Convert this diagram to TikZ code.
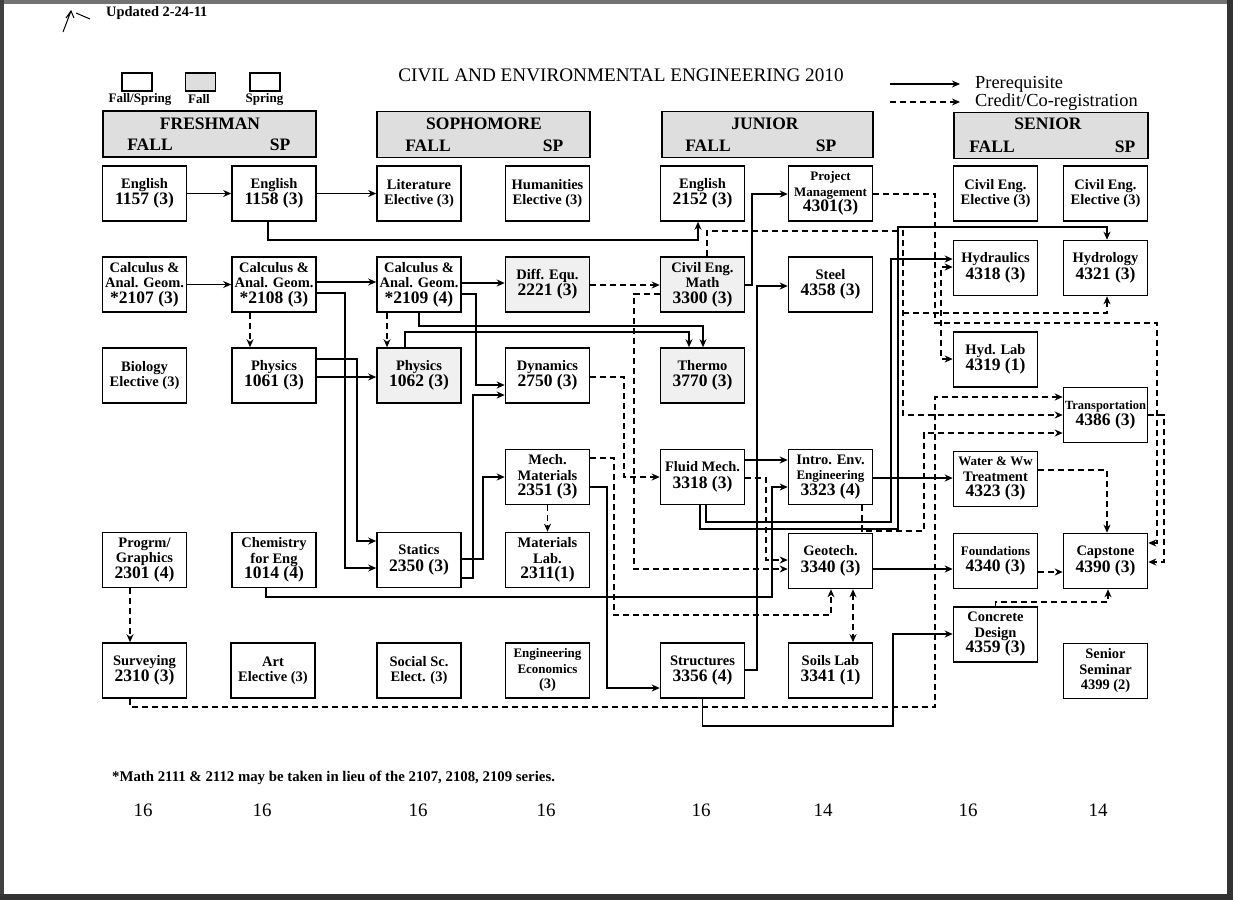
\documentclass[tikz,border=0pt]{standalone}
\usepackage{fontspec}
\setmainfont{Liberation Serif}
\usetikzlibrary{arrows.meta}
\newcommand{\fNm}{\fontsize{14.5}{15.5}\selectfont\bfseries}
\newcommand{\fNs}{\fontsize{13}{14}\selectfont\bfseries}
\newcommand{\fNb}{\fontsize{17.5}{18}\selectfont\bfseries}
\newcommand{\fYr}{\fontsize{17.5}{18}\selectfont\bfseries}
\newcommand{\fLg}{\fontsize{13}{14}\selectfont\bfseries}
\newcommand{\fUp}{\fontsize{14.4}{15}\selectfont\bfseries}
\newcommand{\fTt}{\fontsize{19.2}{20}\selectfont}
\newcommand{\fLr}{\fontsize{18.4}{19}\selectfont}
\newcommand{\fFn}{\fontsize{14.8}{15}\selectfont\bfseries}
\newcommand{\fTo}{\fontsize{19}{20}\selectfont}
\begin{document}
\begin{tikzpicture}[x=1pt,y=-1pt,
  box/.style={draw,line width=1.6pt,minimum width=84pt,minimum height=55pt,inner sep=0.5pt,align=center,font=\fNm},
  fallbox/.style={box,fill=black!6},
  yearbox/.style={draw,line width=1.6pt,fill=black!13,minimum height=46pt},
  pre/.style={line width=1.4pt,-{Stealth[length=8pt,width=7pt]}},
  co/.style={line width=1.4pt,dash pattern=on 6pt off 4pt,-{Stealth[length=8pt,width=7pt]}},
  cob/.style={line width=1.4pt,dash pattern=on 6pt off 4pt,{Stealth[length=8pt,width=7pt]}-{Stealth[length=8pt,width=7pt]}},
  yr/.style={font=\fYr,inner sep=0pt},
  lab/.style={inner sep=0pt},
  lgbox/.style={draw,line width=1.4pt,minimum width=30pt,minimum height=18pt,inner sep=0pt}
]
\useasboundingbox (0,0) rectangle (1233,900);
\fill[white] (0,0) rectangle (1233,900);
% scanned page edges
\fill[black!55] (0,0) rectangle (1233,4);
\fill[black!75] (0,0) rectangle (4,900);
\fill[black!80] (1227,0) rectangle (1233,900);
\fill[black!80] (0,894) rectangle (1233,900);
\draw[line width=1pt] (63,32) -- (71,11) (66,18) -- (71,11) -- (74,18) (76,13) -- (90,19);

% header texts
\node[lab,anchor=west,font=\fUp] (upd) at (106,13) {Updated 2-24-11};
\node[lab,font=\fTt] (title) at (621,75) {CIVIL AND ENVIRONMENTAL ENGINEERING 2010};
\node[lgbox] (lfs) at (137,82) {};
\node[lgbox,fill=black!13] (lf) at (200.5,82) {};
\node[lgbox] (lsp) at (265,82) {};
\node[lab,font=\fLg] (lfst) at (140,99) {Fall/Spring};
\node[lab,font=\fLg] (lft) at (199,99) {Fall};
\node[lab,font=\fLg] (lspt) at (264.5,99) {Spring};
\coordinate (la1) at (890,84); \coordinate (lb1) at (960,84);
\coordinate (la2) at (890,102); \coordinate (lb2) at (960,102);
\draw[pre] (la1) -- (lb1);
\draw[co] (la2) -- (lb2);
\node[lab,anchor=west,font=\fLr] (lpt) at (975,84) {Prerequisite};
\node[lab,anchor=west,font=\fLr] (lct) at (975,102) {Credit/Co-registration};

% year boxes
\node[yearbox,minimum width=213pt] (yfr) at (209.5,134) {};
\node[yearbox,minimum width=213pt] (yso) at (483.5,134.5) {};
\node[yearbox,minimum width=211pt] (yju) at (767.5,134.5) {};
\node[yearbox,minimum width=194pt] (yse) at (1051,135.5) {};
\node[yr] (tfr) at (210,124) {FRESHMAN};
\node[yr] (tfrf) at (150,145) {FALL};
\node[yr] (tfrs) at (280,145) {SP};
\node[yr] (tso) at (484,124) {SOPHOMORE};
\node[yr] (tsof) at (428,146) {FALL};
\node[yr] (tsos) at (553,146) {SP};
\node[yr] (tju) at (765,124) {JUNIOR};
\node[yr] (tjuf) at (708,146) {FALL};
\node[yr] (tjus) at (826,146) {SP};
\node[yr] (tse) at (1048,124) {SENIOR};
\node[yr] (tsef) at (992,147) {FALL};
\node[yr] (tses) at (1125,147) {SP};

% course boxes
\node[box] (e1157) at (144.5,193.5) {English\\[1pt]{\fNb 1157 (3)}};
\node[box] (e1158) at (274,193.5) {English\\[1pt]{\fNb 1158 (3)}};
\node[box] (lit) at (419,193.5) {Literature\\Elective (3)};
\node[box] (hum) at (547.5,193.5) {Humanities\\Elective (3)};
\node[box] (e2152) at (702.5,193.5) {English\\[1pt]{\fNb 2152 (3)}};
\node[box] (pm) at (830.5,193.5) {{\fNs Project}\\{\fNs Management}\\{\fNb 4301(3)}};
\node[box] (ce1) at (995.5,193.5) {Civil Eng.\\Elective (3)};
\node[box] (ce2) at (1105.5,193.5) {Civil Eng.\\Elective (3)};

\node[box] (c2107) at (144.5,284.5) {Calculus \&\\Anal. Geom.\\{\fNb *2107 (3)}};
\node[box] (c2108) at (274,284.5) {Calculus \&\\Anal. Geom.\\{\fNb *2108 (3)}};
\node[box] (c2109) at (419,284.5) {Calculus \&\\Anal. Geom.\\{\fNb *2109 (4)}};
\node[fallbox] (de) at (547.5,284.5) {Diff. Equ.\\[1pt]{\fNb 2221 (3)}};
\node[fallbox] (cem) at (702.5,284.5) {Civil Eng.\\Math\\{\fNb 3300 (3)}};
\node[box] (steel) at (830.5,284.5) {Steel\\[1pt]{\fNb 4358 (3)}};
\node[box] (hydr) at (995.5,268) {Hydraulics\\[1pt]{\fNb 4318 (3)}};
\node[box] (hydro) at (1105.5,268) {Hydrology\\[1pt]{\fNb 4321 (3)}};

\node[box] (bio) at (144.5,375.5) {Biology\\Elective (3)};
\node[box] (p1061) at (274,375.5) {Physics\\[1pt]{\fNb 1061 (3)}};
\node[fallbox] (p1062) at (419,375.5) {Physics\\[1pt]{\fNb 1062 (3)}};
\node[box] (dyn) at (547.5,375.5) {Dynamics\\[1pt]{\fNb 2750 (3)}};
\node[fallbox] (thermo) at (702.5,375.5) {Thermo\\[1pt]{\fNb 3770 (3)}};
\node[box] (hlab) at (995.5,359.5) {Hyd. Lab\\[1pt]{\fNb 4319 (1)}};
\node[box] (trans) at (1105.5,415) {{\fontsize{12.5}{13}\selectfont\bfseries Transportation}\\[1pt]{\fNb 4386 (3)}};

\node[box] (mech) at (547.5,477) {Mech.\\Materials\\{\fNb 2351 (3)}};
\node[box] (fm) at (702.5,477) {Fluid Mech.\\[1pt]{\fNb 3318 (3)}};
\node[box] (ienv) at (830.5,477) {Intro. Env.\\{\fNs Engineering}\\{\fNb 3323 (4)}};
\node[box] (water) at (995.5,479) {{\fNs Water \& Ww}\\Treatment\\{\fNb 4323 (3)}};

\node[box] (prog) at (144.5,560) {Progrm/\\Graphics\\{\fNb 2301 (4)}};
\node[box] (chem) at (274,560) {Chemistry\\for Eng\\{\fNb 1014 (4)}};
\node[box] (stat) at (419,560) {Statics\\[1pt]{\fNb 2350 (3)}};
\node[box] (mlab) at (547.5,560) {Materials\\Lab.\\{\fNb 2311(1)}};
\node[box] (geo) at (830.5,561) {Geotech.\\[1pt]{\fNb 3340 (3)}};
\node[box] (found) at (995.5,561) {{\fNs Foundations}\\[1pt]{\fNb 4340 (3)}};
\node[box] (cap) at (1105.5,561) {Capstone\\[1pt]{\fNb 4390 (3)}};
\node[box] (conc) at (995.5,634.5) {Concrete\\Design\\{\fNb 4359 (3)}};

\node[box] (surv) at (144.5,670.5) {Surveying\\[1pt]{\fNb 2310 (3)}};
\node[box] (art) at (273,670.5) {Art\\Elective (3)};
\node[box] (soc) at (419,670.5) {Social Sc.\\Elect. (3)};
\node[box] (econ) at (547.5,670.5) {{\fNs Engineering}\\{\fNs Economics}\\(3)};
\node[box] (struct) at (702.5,670.5) {Structures\\[1pt]{\fNb 3356 (4)}};
\node[box] (soils) at (830.5,670.5) {Soils Lab\\[1pt]{\fNb 3341 (1)}};
\node[box] (sem) at (1105.5,671) {Senior\\Seminar\\4399 (2)};

% footnote and totals
\node[lab,anchor=west,font=\fFn] (fn) at (112,778) {*Math 2111 \& 2112 may be taken in lieu of the 2107, 2108, 2109 series.};
\node[lab,font=\fTo] (t1) at (143,810) {16};
\node[lab,font=\fTo] (t2) at (262,810) {16};
\node[lab,font=\fTo] (t3) at (418,810) {16};
\node[lab,font=\fTo] (t4) at (546,810) {16};
\node[lab,font=\fTo] (t5) at (701,810) {16};
\node[lab,font=\fTo] (t6) at (823,810) {14};
\node[lab,font=\fTo] (t7) at (968,810) {16};
\node[lab,font=\fTo] (t8) at (1098,810) {14};

% prerequisites (solid)
\draw[pre] (e1157) -- (e1158);
\draw[pre] (e1158) -- (lit);
\draw[pre] (e1158.south -| 268,0) |- (698,240) -- (e2152.south -| 698,0);
\draw[pre] (c2107) -- (c2108);
\draw[pre] (c2108.east |- 0,282) -- (c2109.west |- 0,282);
\draw[pre] (c2108.east |- 0,293) -- (345,293) |- (stat.west |- 0,568);
\draw[pre] (c2109.east |- 0,283) -- (de.west |- 0,283);
\draw[pre] (c2109.east |- 0,294) -- (476,294) |- (dyn.west |- 0,385);
\draw[pre] (p1061.east |- 0,359) -- (357,359) |- (stat.west |- 0,541);
\draw[pre] (p1061.east |- 0,377) -- (p1062.west |- 0,377);
\draw[pre] (c2109.south) |- (703,326) -- (thermo.north -| 703,0);
\draw[pre] (p1062.north -| 405,0) |- (689,332) -- (thermo.north -| 689,0);
\draw[pre] (stat.east |- 0,559) -- (483,559) |- (mech.west |- 0,477);
\draw[pre] (stat.east |- 0,578) -- (473,578) |- (dyn.west |- 0,395);
\draw[pre] (mech.east |- 0,487) -- (607,487) |- (struct.west |- 0,688);
\draw[pre] (struct.east |- 0,670) -- (757,670) |- (steel.west |- 0,286);
\draw[pre] (struct.south) |- (893,726) |- (conc.west |- 0,634);
\draw[pre] (cem.east |- 0,285) -- (752,285) |- (pm.west |- 0,194);
\draw[pre] (fm.east |- 0,460) -- (ienv.west |- 0,460);
\draw[pre] (ienv.east |- 0,478) -- (water.west |- 0,478);
\draw[pre] (geo.east |- 0,569) -- (found.west |- 0,569);
\draw[pre] (fm.south -| 706,0) |- (891,522) |- (hydr.west |- 0,259);
\draw[pre] (fm.south -| 700,0) |- (898,529) |- (1107,227) -- (hydro.north -| 1107,0);
\draw[pre] (chem.south -| 266,0) |- (772,597) |- (ienv.west |- 0,487);

% credit / co-registration (dashed)
\draw[co] (c2108.south -| 250,0) -- (p1061.north -| 250,0);
\draw[co] (c2109.south -| 387,0) -- (p1062.north -| 387,0);
\draw[co] (de.east |- 0,285) -- (cem.west |- 0,285);
\draw[co] (cem.north -| 707,0) |- (903,231) |- (trans.west |- 0,415);
\coordinate (hbr) at (903,313);
\draw[co] (hbr) -| (hydro.south -| 1107,0);
\draw[co] (pm.east |- 0,194) -- (935,194) |- (1157,323) |- (cap.east |- 0,543);
\draw[cob] (hydr.west |- 0,267) -| (941,359) -- (hlab.west |- 0,359);
\draw[co] (surv.south -| 130,0) |- (935,707) |- (trans.west |- 0,397);
\draw[co] (prog.south -| 130,0) -- (surv.north -| 130,0);
\draw[co] (dyn.east |- 0,377) -- (624,377) |- (fm.west |- 0,477);
\draw[co] (cem.west |- 0,294) -- (634,294) |- (geo.west |- 0,569);
\draw[co] (fm.east |- 0,478) -- (766,478) |- (geo.west |- 0,560);
\draw[co] (mech.east |- 0,458) -- (614,458) |- (831,615) -- (geo.south -| 831,0);
\draw[cob] (geo.south -| 853,0) -- (soils.north -| 853,0);
\draw[co] (mech) -- (mlab);
\draw[co] (water.east |- 0,470) -| (cap.north -| 1107,0);
\draw[co] (found.east |- 0,572) -- (cap.west |- 0,572);
\draw[co] (conc.north) |- (1108,602) -- (cap.south -| 1108,0);
\draw[co] (trans.east |- 0,415) -- (1164,415) |- (cap.east |- 0,562);
\draw[co] (ienv.south -| 862,0) |- (924,531) |- (trans.west |- 0,433);
\end{tikzpicture}
\end{document}
